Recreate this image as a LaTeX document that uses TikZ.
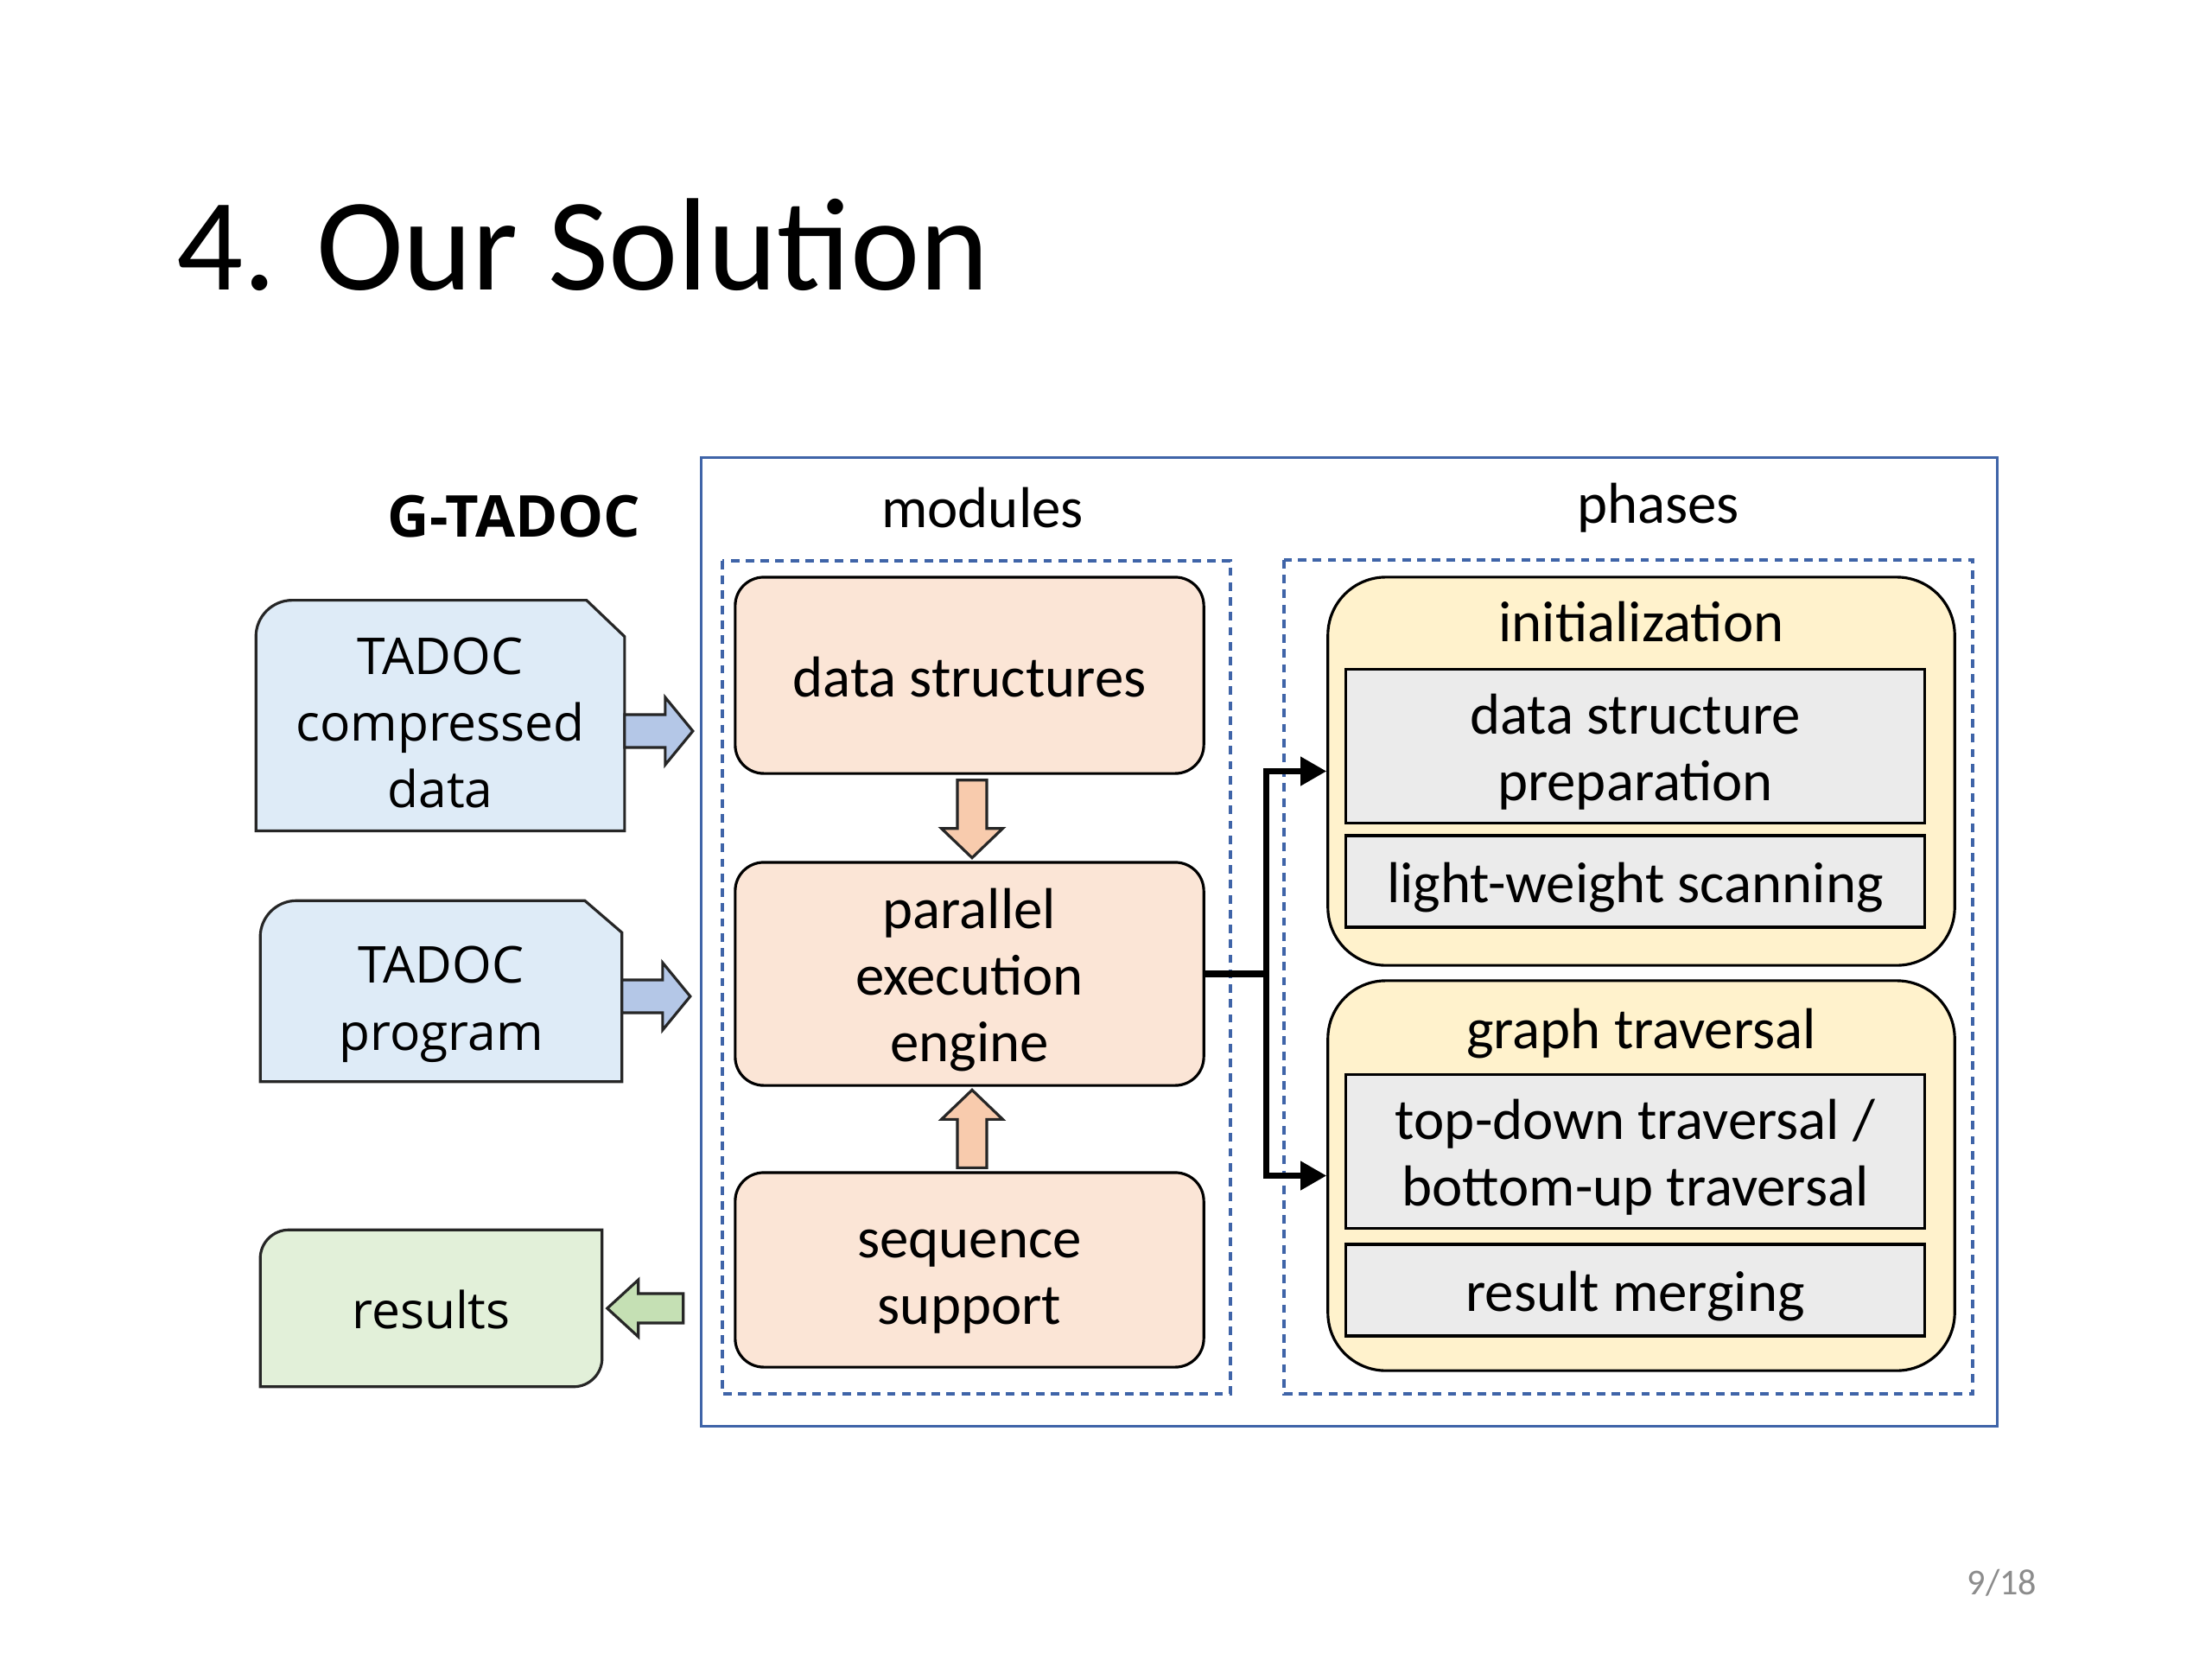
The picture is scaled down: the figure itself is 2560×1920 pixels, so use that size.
\documentclass[tikz,border=0pt]{standalone}
\usepackage{fontspec}
\setmainfont{Carlito}
\newfontfamily\boxfont{Open Sans}
\usetikzlibrary{arrows.meta,backgrounds}
\definecolor{docfill}{HTML}{DEEBF7}
\definecolor{docarrow}{HTML}{B4C7E7}
\definecolor{resfill}{HTML}{E2F0D9}
\definecolor{resarrow}{HTML}{C5E0B4}
\definecolor{modfill}{HTML}{FBE5D6}
\definecolor{modarrow}{HTML}{F8CBAD}
\definecolor{phasefill}{HTML}{FFF2CC}
\definecolor{stepfill}{HTML}{EBEBEB}
\definecolor{frameblue}{HTML}{3F64A8}
\definecolor{pagegray}{HTML}{8C8C8C}
\begin{document}
\begin{tikzpicture}[x=0.01cm,y=-0.01cm,
  txt/.style={font=\fontsize{19}{21.8}\selectfont},
  boxtxt/.style={txt,align=center,text height=18pt,text depth=4pt},
  modbox/.style={boxtxt,draw,line width=0.9pt,fill=modfill,rounded corners=0.33cm,minimum width=5.42cm},
  phasebox/.style={draw,line width=0.9pt,fill=phasefill,rounded corners=0.67cm,minimum width=7.25cm},
  stepbox/.style={boxtxt,draw,line width=0.9pt,fill=stepfill,minimum width=6.69cm},
  docbox/.style={font=\boxfont\fontsize{16.7}{22}\selectfont,align=center,text height=20.8pt,text depth=4pt},
  outline/.style={draw=black!85,line width=0.9pt},
  frame/.style={draw=frameblue,line width=0.85pt},
  dashbox/.style={draw=frameblue,line width=0.9pt,dash pattern=on 2.8pt off 2.1pt},
  conn/.style={line width=2pt,line join=miter,>={Triangle[length=0.3cm,width=0.32cm]}}]
\useasboundingbox (0,0) rectangle (2560,1920);
\node[anchor=base west,inner sep=0,font=\fontsize{43.3}{50}\selectfont] (title) at (204,335) {4. Our Solution};
\node[font=\boxfont\bfseries\fontsize{19}{21}\selectfont] (gtadoc) at (595,598) {G-TADOC};
\node[txt] (modules) at (1137,588) {modules};
\node[txt] (phases) at (1919,588) {phases};
\draw[frame] (811,529) rectangle (2311,1650);
\draw[dashbox] (836,649) rectangle (1424,1613);
\draw[dashbox] (1486,648) rectangle (2283,1613);
\node[modbox,minimum height=2.27cm] (ds) at (1122,781.5) {data structures};
\node[modbox,text height=61.6pt,minimum height=2.58cm] (pee) at (1122,1127) {parallel\\execution\\engine};
\node[modbox,text height=39.8pt,minimum height=2.25cm] (sq) at (1122,1469.5) {sequence\\support};
\node[phasebox,minimum height=4.49cm] (init) at (1899.5,892.5) {};
\node[txt] (inittitle) at (1899.5,720) {initialization};
\node[stepbox,text height=39.8pt,minimum height=1.73cm] (dsp) at (1892.5,863.5) {data structure\\preparation};
\node[stepbox,minimum height=1.06cm] (lws) at (1892.5,1020) {light-weight scanning};
\node[phasebox,minimum height=4.51cm] (gt) at (1899.5,1360.5) {};
\node[txt] (gttitle) at (1899.5,1196) {graph traversal};
\node[stepbox,text height=39.8pt,minimum height=1.73cm] (tdbu) at (1892.5,1332.5) {top-down traversal /\\bottom-up traversal};
\node[stepbox,minimum height=1.06cm] (rm) at (1892.5,1493) {result merging};
\node[docbox,text height=64.8pt,minimum width=4.25cm,minimum height=2.64cm] (tcd) at (509.5,828) {TADOC\\compressed\\data};
\node[docbox,text height=42.8pt,minimum width=4.17cm,minimum height=2.08cm] (tp) at (510.5,1147) {TADOC\\program};
\node[docbox,text height=17.5pt,minimum width=3.94cm,minimum height=1.80cm] (res) at (499,1514) {results};
\node[font=\fontsize{12}{14}\selectfont,text=pagegray] (pg) at (2317,1832) {9/18};
\begin{scope}[on background layer]
\fill[white] (0,0) rectangle (2560,1920);
\draw[outline,fill=docfill] (tcd.south east) -- (tcd.south west) [rounded corners=0.42cm] -- (tcd.north west) [sharp corners] -- ([xshift=-0.44cm]tcd.north east) -- ([yshift=-0.42cm]tcd.north east) -- cycle;
\draw[outline,fill=docfill] (tp.south east) -- (tp.south west) [rounded corners=0.42cm] -- (tp.north west) [sharp corners] -- ([xshift=-0.43cm]tp.north east) -- ([yshift=-0.37cm]tp.north east) -- cycle;
\draw[outline,fill=resfill] (res.north east) [rounded corners=0.33cm] -- (res.south east) [sharp corners] -- (res.south west) [rounded corners=0.33cm] -- (res.north west) [sharp corners] -- cycle;
\end{scope}
\draw[outline,fill=docarrow](tcd.east)++(0,-1)--++(47,0)--++(0,-20)--++(32,39)--++(-32,39)--++(0,-20)--++(-47,0)--cycle;
\draw[outline,fill=docarrow](tp.east)++(0,-13)--++(47,0)--++(0,-20)--++(32,39)--++(-32,39)--++(0,-20)--++(-47,0)--cycle;
\draw[outline,fill=resarrow](res.east)++(6,0)--++(36,-33)--++(0,16)--++(52,0)--++(0,34)--++(-52,0)--++(0,16)--cycle;
\draw[outline,fill=modarrow](ds.south)++(-14,6)--++(34,0)--++(0,56)--++(18.5,0)--++(-35.5,34)--++(-35.5,-34)--++(18.5,0)--cycle;
\draw[outline,fill=modarrow](sq.north)++(-14,-4)--++(34,0)--++(0,-56)--++(18.5,0)--++(-35.5,-34)--++(-35.5,34)--++(18.5,0)--cycle;
\coordinate (hub) at (1465,1127);
\draw[conn,line width=2.4pt] (pee.east) -- (hub);
\draw[conn,<->] (init.west) -| (hub) |- (gt.west);
\end{tikzpicture}
\end{document}
